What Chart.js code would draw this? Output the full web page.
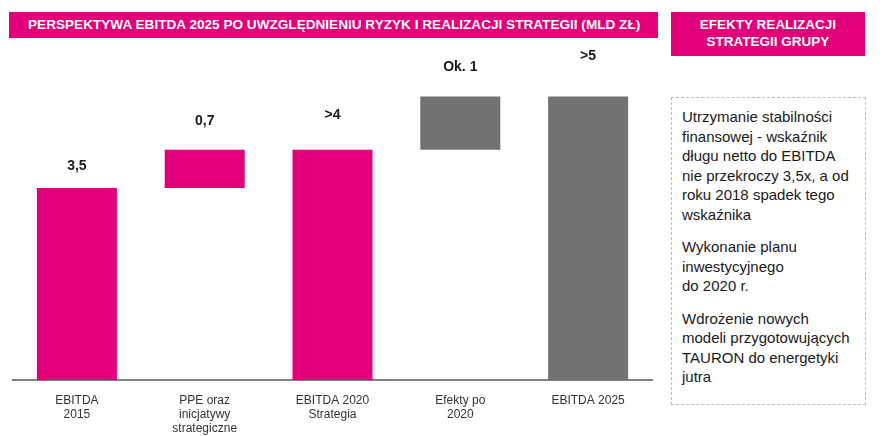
<!DOCTYPE html>
<html lang="pl">
<head>
<meta charset="utf-8">
<script src="https://cdn.jsdelivr.net/npm/chart.js@4"></script>
<style>
  html, body { margin: 0; padding: 0; background: #fff; }
  body { width: 882px; height: 436px; position: relative; overflow: hidden; font-family: "Liberation Sans", Arial, sans-serif; }
  .chart-wrap { position: absolute; left: 0; top: 0; width: 660px; height: 436px; }
  .hdr { position: absolute; background: #e2007a; color: #fff; font-weight: bold; z-index: 2; box-sizing: border-box; }
  .hdr-main { left: 9px; top: 12px; width: 649px; height: 26px; font-size: 13.6px; line-height: 26px; padding-left: 19px; white-space: nowrap; }
  .hdr-side { left: 671px; top: 12px; width: 194px; height: 44px; font-size: 13.5px; line-height: 17px; text-align: center; padding-top: 4px; }
  .box { position: absolute; left: 671px; top: 97px; width: 195px; height: 308px; box-sizing: border-box; border: 1px dashed #bdbdbd; padding: 9px 4px 0 10px; font-size: 15px; line-height: 19.5px; color: #1a1a1a; white-space: nowrap; }
  .box p { margin: 0 0 13px 0; }
</style>
</head>
<body>
<div class="hdr hdr-main">PERSPEKTYWA EBITDA 2025 PO UWZGLĘDNIENIU RYZYK I REALIZACJI STRATEGII (MLD ZŁ)</div>
<div class="hdr hdr-side">EFEKTY REALIZACJI<br>STRATEGII GRUPY</div>
<div class="box">
  <p>Utrzymanie stabilności<br>finansowej - wskaźnik<br>długu netto do EBITDA<br>nie przekroczy 3,5x, a od<br>roku 2018 spadek tego<br>wskaźnika</p>
  <p>Wykonanie planu<br>inwestycyjnego<br>do 2020 r.</p>
  <p>Wdrożenie nowych<br>modeli przygotowujących<br>TAURON do energetyki<br>jutra</p>
</div>
<div class="chart-wrap"><canvas id="wf"></canvas></div>
<script>
(function () {
  'use strict';

  // categories (multi-line labels)
  const categories = [
    ['EBITDA', '2015'],
    ['PPE oraz', 'inicjatywy', 'strategiczne'],
    ['EBITDA 2020', 'Strategia'],
    ['Efekty po', '2020'],
    ['EBITDA 2025']
  ];
  // waterfall: bottom and top of each bar (mld zł)
  const barStart = [0, 3.5, 0, 4.2, 0];
  const barEnd = [3.5, 4.2, 4.2, 5.17, 5.17];
  const valueLabels = ['3,5', '0,7', '>4', 'Ok. 1', '>5'];

  const MAGENTA = '#e2007a';
  const GREY = '#727272';
  const colors = [MAGENTA, MAGENTA, MAGENTA, GREY, GREY];
  // gap between bar top and label (px)
  const labelGap = [22, 29, 35, 29, 40];

  const valueLabelPlugin = {
    id: 'valueLabels',
    afterDatasetsDraw(chart) {
      const { ctx } = chart;
      const meta = chart.getDatasetMeta(0);
      ctx.save();
      ctx.font = 'bold 14px "Liberation Sans", Arial, sans-serif';
      ctx.fillStyle = '#1a1a1a';
      ctx.textAlign = 'center';
      ctx.textBaseline = 'middle';
      meta.data.forEach((bar, i) => {
        ctx.fillText(valueLabels[i], bar.x, bar.y - labelGap[i]);
      });
      ctx.restore();
    }
  };

  new Chart(document.getElementById('wf'), {
    type: 'bar',
    data: {
      labels: categories,
      datasets: [{
        data: barStart.map((s, i) => [s, barEnd[i]]),
        backgroundColor: colors,
        borderWidth: 0,
        barPercentage: 0.626,
        categoryPercentage: 1
      }]
    },
    options: {
      responsive: true,
      maintainAspectRatio: false,
      animation: false,
      layout: { padding: { top: 51, left: 13, right: 8, bottom: 0 } },
      plugins: { legend: { display: false }, tooltip: { enabled: false } },
      scales: {
        x: {
          grid: { display: false },
          border: { display: true, color: '#808080', width: 2 },
          ticks: {
            color: '#333',
            padding: 6,
            maxRotation: 0,
            font: { family: '"Liberation Sans", Arial, sans-serif', size: 12, lineHeight: 1.15 }
          },
          afterFit: (scale) => { scale.height = 56; }
        },
        y: { display: false, min: 0, max: 6 }
      }
    },
    plugins: [valueLabelPlugin]
  });
})();
</script>
</body>
</html>
